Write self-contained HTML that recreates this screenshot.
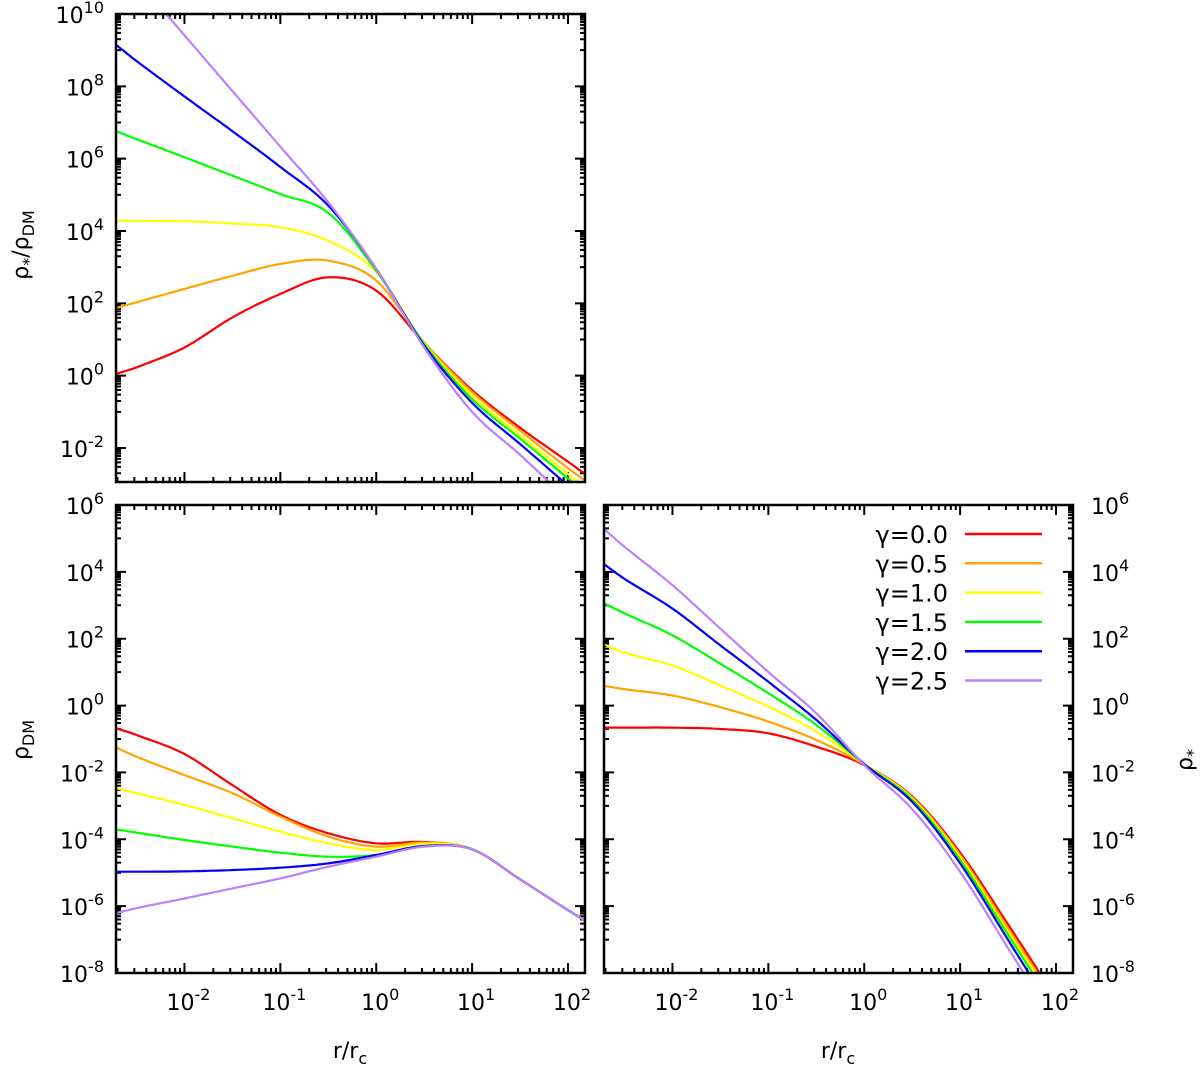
<!DOCTYPE html>
<html><head><meta charset="utf-8"><style>
body{margin:0;background:#fff;}
svg text{font-family:"DejaVu Sans","Liberation Sans",sans-serif;fill:#000;}
</style></head><body>
<svg id="chart" width="1200" height="1064" xmlns="http://www.w3.org/2000/svg"></svg>
<script>
const gammas=["0.0","0.5","1.0","1.5","2.0","2.5"];
const colors=["#ff0000","#ffa500","#ffff00","#00ff00","#0000ff","#bb80ff"];
const lx=[-2.714,-2.5,-2,-1.5,-1,-0.5,0,0.5,1,1.5,2,2.177];
// top: log10(rho*/rhoDM)
const ratio0=[0.05,0.23,0.78,1.61,2.26,2.72,2.35,0.9,-0.4,-1.44,-2.38,-2.72];
const ratio1=[1.87,2.03,2.4,2.76,3.09,3.18,2.63,0.92,-0.45,-1.52,-2.56,-2.9];
const ratio2=[4.29,4.28,4.27,4.21,4.1,3.73,2.86,0.9,-0.55,-1.65,-2.72,-3.09];
const ratio3=[6.76,6.54,6.04,5.53,5.02,4.5,2.9,0.88,-0.65,-1.74,-2.84,-3.23];
const ratio4=[9.15,8.7,7.72,6.76,5.77,4.7,2.95,0.83,-0.75,-1.89,-3.04,-3.46];
const ratio5=[11.6,10.94,9.41,7.87,6.33,4.79,2.95,0.78,-1.0,-2.19,-3.43,-3.87];
// bottom-left: log10(rhoDM)
const dm0=[-0.68,-0.88,-1.45,-2.38,-3.27,-3.82,-4.12,-4.08,-4.3,-5.2,-6.12,-6.43];
const dm1=[-1.25,-1.53,-2.08,-2.62,-3.32,-3.92,-4.22,-4.1,-4.3,-5.2,-6.12,-6.43];
const dm2=[-2.47,-2.62,-2.97,-3.37,-3.77,-4.12,-4.32,-4.13,-4.3,-5.2,-6.12,-6.43];
const dm3=[-3.7,-3.8,-4.02,-4.22,-4.4,-4.52,-4.47,-4.2,-4.3,-5.2,-6.12,-6.43];
const dm4=[-4.97,-4.97,-4.96,-4.92,-4.85,-4.72,-4.47,-4.2,-4.3,-5.2,-6.12,-6.43];
const dm5=[-6.21,-6.06,-5.77,-5.47,-5.17,-4.82,-4.52,-4.22,-4.3,-5.2,-6.12,-6.43];
// bottom-right: log10(rho*)
const st0=[-0.66,-0.66,-0.66,-0.7,-0.83,-1.23,-1.78,-2.72,-4.4,-6.55,-8.76,-9.6];
const st1=[0.59,0.49,0.3,-0.05,-0.48,-1.03,-1.76,-2.75,-4.47,-6.66,-8.86,-9.62];
const st2=[1.83,1.58,1.2,0.6,-0.03,-0.78,-1.75,-2.78,-4.55,-6.76,-8.96,-9.73];
const st3=[3.06,2.76,2.1,1.25,0.37,-0.58,-1.75,-2.82,-4.62,-6.86,-9.1,-9.9];
const st4=[4.23,3.79,2.9,1.8,0.71,-0.43,-1.75,-2.88,-4.72,-7.01,-9.3,-10.1];
const st5=[5.28,4.75,3.6,2.3,1.0,-0.23,-1.78,-3.1,-4.97,-7.26,-9.55,-10.35];
const ratioSeries=[ratio0,ratio1,ratio2,ratio3,ratio4,ratio5];
const dmSeries=[dm0,dm1,dm2,dm3,dm4,dm5];
const stSeries=[st0,st1,st2,st3,st4,st5];
const xTicks=[-2,-1,0,1,2];

const svg=document.getElementById('chart');
const NS="http://www.w3.org/2000/svg";
function mk(tag,attrs,parent){const e=document.createElementNS(NS,tag);for(const k in attrs)e.setAttribute(k,attrs[k]);(parent||svg).appendChild(e);return e;}
const XMIN=-2.714,XMAX=2.177;
function tangents(xs,ys){const n=xs.length,m=[];for(let i=0;i<n;i++){const a=Math.max(0,i-1),b=Math.min(n-1,i+1);m.push((ys[b]-ys[a])/(xs[b]-xs[a]));}return m;}
function panel(name,x0,y0,w,h,ymin,ymax,yLabels,labelSide,series,pid){
  const g=mk('g',{});
  
  
  const sx=v=>x0+(v-XMIN)/(XMAX-XMIN)*w;
  const sy=v=>y0+(ymax-v)/(ymax-ymin)*h;
  const cp=mk('clipPath',{id:'c'+pid},g);mk('rect',{x:x0,y:y0,width:w,height:h},cp);
  let d='';
  for(let a=Math.floor(XMIN);a<=Math.ceil(XMAX);a++){for(let k=1;k<=9;k++){const v=a+Math.log10(k);if(v<XMIN||v>XMAX)continue;const X=sx(v);const L=k==1?10:5;d+=`M${X},${y0+h}v${-L}M${X},${y0}v${L}`;}}
  for(let a=Math.floor(ymin/2)*2;a<=ymax;a+=2){for(let k=1;k<=10;k++){const v=(k==10)?a:a+1+Math.log10(k);if(v<ymin||v>ymax)continue;const Y=sy(v);const L=k==10?10:5;d+=`M${x0},${Y}h${L}M${x0+w},${Y}h${-L}`;}}
  const t=mk('path',{d:d,stroke:'#000','stroke-width':2,fill:'none'},g);
  
  
  series.forEach((ys,i)=>{
    const m=tangents(lx,ys);let pts=[];
    for(let j=0;j<lx.length-1;j++){
      const hh=lx[j+1]-lx[j];
      for(let s=0;s<16;s++){const tt=s/16,t2=tt*tt,t3=t2*tt;
        const y=(2*t3-3*t2+1)*ys[j]+(t3-2*t2+tt)*hh*m[j]+(-2*t3+3*t2)*ys[j+1]+(t3-t2)*hh*m[j+1];
        pts.push([sx(lx[j]+tt*hh),sy(y)]);}
    }
    pts.push([sx(lx[lx.length-1]),sy(ys[ys.length-1])]);
    const p=mk('path',{d:'M'+pts.map(q=>q[0].toFixed(1)+','+q[1].toFixed(1)).join('L'),stroke:colors[i],'stroke-width':2.2,fill:'none','clip-path':`url(#c${pid})`},g);
    
    
  });
  const b=mk('rect',{x:x0,y:y0,width:w,height:h,fill:'none',stroke:'#000','stroke-width':2.5},g);
  
  
  yLabels.forEach(v=>{
    const tx=mk('text',{x:labelSide=='left'?x0-12:x0+w+18,y:sy(v)+9,'font-size':22,'text-anchor':labelSide=='left'?'end':'start'},g);
    
    
    tx.innerHTML='10<tspan dy="-10" font-size="16">'+v+'</tspan>';
  });
  return {sx,sy};
}
const tpPanel=panel('top-panel-ratio',116,14,469,468,-2.94,10,[10,8,6,4,2,0,-2],'left',ratioSeries,1);
const blPanel=panel('bottom-left-panel-dm',116,505,469,468,-8,6,[6,4,2,0,-2,-4,-6,-8],'left',dmSeries,2);
const brPanel=panel('bottom-right-panel-stars',604,505,469,468,-8,6,[6,4,2,0,-2,-4,-6,-8],'right',stSeries,3);
[blPanel,brPanel].forEach(pp=>xTicks.forEach(v=>{
  const tx=mk('text',{x:pp.sx(v)+4,y:1010,'font-size':22,'text-anchor':'middle'});
  
  
  tx.innerHTML='10<tspan dy="-10" font-size="16">'+v+'</tspan>';
}));
function lab(name,x,y,html,rot){const t=mk('text',{x:x,y:y,'font-size':22,'text-anchor':'middle',transform:rot?`rotate(-90 ${x} ${y})`:''});t.innerHTML=html;}
lab('y-axis-title-ratio',28,245,'ρ<tspan dy="6" font-size="16">*</tspan><tspan dy="-6">/ρ</tspan><tspan dy="6" font-size="16">DM</tspan>',true);
lab('y-axis-title-dm',28,740,'ρ<tspan dy="6" font-size="16">DM</tspan>',true);
lab('y-axis-title-stars',1192,760,'ρ<tspan dy="6" font-size="16">*</tspan>',true);
lab('x-axis-title-left',350,1058,'r/r<tspan dy="6" font-size="16">c</tspan>',false);
lab('x-axis-title-right',838,1058,'r/r<tspan dy="6" font-size="16">c</tspan>',false);
const lg=mk('g',{});


gammas.forEach((gm,i)=>{
  const y=534+i*29.3;
  const t=mk('text',{x:948,y:y+9,'font-size':24,'text-anchor':'end'},lg);
  
  
  t.textContent='γ='+gm;
  const l=mk('line',{x1:965,x2:1042,y1:y,y2:y,stroke:colors[i],'stroke-width':2.5},lg);
  
  
});
</script>
</body></html>
